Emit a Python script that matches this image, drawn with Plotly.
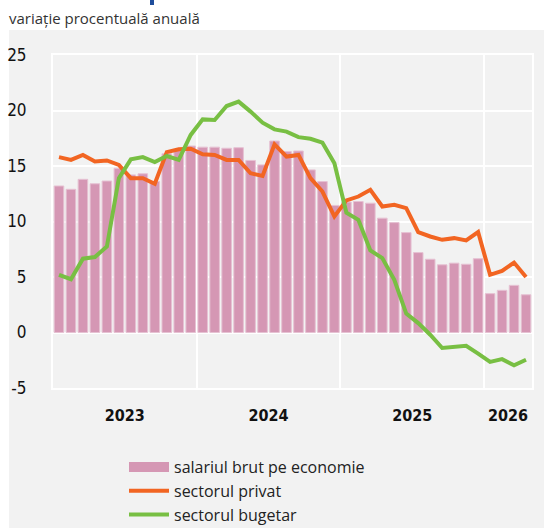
import plotly.graph_objects as go

# monthly data Jan 2023 .. Apr 2026
months = list(range(40))
year_labels = ["2023", "2024", "2025", "2026"]
year_label_pos = [5.5, 17.5, 29.5, 37.5]
year_bounds = [11.5, 23.5, 35.5]

salariul_brut = [13.2, 12.9, 13.8, 13.4, 13.65, 14.8, 14.2, 14.3, 13.6, 16.1, 16.4, 16.8,
                 16.7, 16.7, 16.6, 16.65, 15.5, 15.1, 17.25, 16.3, 16.35, 14.65, 13.6, 11.45,
                 11.75, 11.8, 11.65, 10.3, 9.9, 9.0, 7.2, 6.6, 6.1, 6.25, 6.15, 6.65,
                 3.5, 3.8, 4.25, 3.4]
sectorul_privat = [15.8, 15.55, 16.0, 15.4, 15.5, 15.1, 13.9, 13.9, 13.4, 16.25, 16.5, 16.55,
                   16.05, 16.0, 15.55, 15.55, 14.35, 14.1, 16.95, 15.85, 16.0, 13.9, 12.7, 10.45,
                   11.9, 12.25, 12.85, 11.35, 11.5, 11.2, 9.05, 8.65, 8.35, 8.5, 8.3, 9.05,
                   5.2, 5.55, 6.3, 5.0]
sectorul_bugetar = [5.2, 4.8, 6.65, 6.8, 7.75, 13.9, 15.6, 15.8, 15.35, 15.9, 15.55, 17.8,
                    19.2, 19.15, 20.4, 20.8, 19.9, 18.9, 18.3, 18.1, 17.6, 17.45, 17.1, 15.25,
                    10.8, 10.15, 7.4, 6.7, 4.75, 1.7, 0.85, -0.2, -1.4, -1.3, -1.2, -1.9,
                    -2.65, -2.4, -2.95, -2.45]
y_ticks = [-5, 0, 5, 10, 15, 20, 25]

W, H = 544, 528
ML, MR, MT, MB = 53, 12, 55, 140
pw, ph = W - ML - MR, H - MT - MB

def px_x(p):
    return (p - ML) / pw

def px_y(p):
    return (H - MB - p) / ph

cond = "DejaVu Sans Condensed, DejaVu Sans, sans-serif"
BAR_COLOR = "#d597b4"

fig = go.Figure()
fig.add_trace(go.Bar(x=months, y=salariul_brut, name="salariul brut pe economie",
                     showlegend=False,
                     marker=dict(color=BAR_COLOR, line=dict(color="#e6c2d3", width=1))))
# legend proxy for the bars (wide swatch like the reference)
fig.add_trace(go.Scatter(x=[None], y=[None], name="salariul brut pe economie", mode="lines",
                         line=dict(color=BAR_COLOR, width=12)))
fig.add_trace(go.Scatter(x=months, y=sectorul_privat, name="sectorul privat", mode="lines",
                         line=dict(color="#f26522", width=4)))
fig.add_trace(go.Scatter(x=months, y=sectorul_bugetar, name="sectorul bugetar", mode="lines",
                         line=dict(color="#78bf43", width=4)))

fig.update_layout(
    width=W, height=H,
    margin=dict(l=ML, r=MR, t=MT, b=MB, autoexpand=False),
    paper_bgcolor="white",
    plot_bgcolor="#f2f2f2",
    bargap=0.2,
    showlegend=True,
    legend=dict(xref="container", yref="container", x=124 / W, y=1 - 450 / H,
                xanchor="left", yanchor="top", itemwidth=40,
                bgcolor="rgba(0,0,0,0)", font=dict(family="Open Sans, Noto Sans, sans-serif",
                                                  size=16, color="#222"),
                tracegroupgap=0),
    shapes=[
        dict(type="rect", xref="paper", yref="paper", layer="below",
             x0=px_x(9), x1=px_x(W + 2), y0=px_y(H + 2), y1=px_y(30),
             fillcolor="#f2f2f2", line=dict(width=0)),
        dict(type="rect", xref="paper", yref="paper",
             x0=px_x(150), x1=px_x(154), y0=px_y(5), y1=px_y(-2),
             fillcolor="#1f4e9c", line=dict(width=0)),
    ],
    annotations=[
        dict(text="variație procentuală anuală", xref="paper", yref="paper",
             x=px_x(7), y=px_y(18), xanchor="left", yanchor="middle", showarrow=False,
             font=dict(family="Open Sans, Noto Sans, sans-serif", size=15, color="#333")),
    ],
)

fig.update_xaxes(range=[-0.5, 39.5], tickvals=year_label_pos, ticktext=year_labels,
                 showgrid=False, zeroline=False, ticks="", ticklabelstandoff=12,
                 automargin=False,
                 tickfont=dict(family=cond, size=16, color="#111", weight="bold"),
                 showline=True, linecolor="white", linewidth=2, mirror=True,
                 minor=dict(tickvals=year_bounds, showgrid=True, gridcolor="white", gridwidth=2))
fig.update_yaxes(range=[-5, 25], tickvals=y_ticks, ticktext=[str(v) for v in y_ticks],
                 showgrid=True, gridcolor="white", gridwidth=2, zeroline=False,
                 ticks="", ticklabelstandoff=21, automargin=False,
                 tickfont=dict(family=cond, size=17, color="#111"),
                 showline=True, linecolor="white", linewidth=2, mirror=True)

post = """
document.body.style.margin = '0';
document.body.style.padding = '0';
document.querySelectorAll('.xtick text, .ytick text').forEach(function(t){
  t.style.fontStretch = 'condensed';
});
"""
fig.write_html("out.html", post_script=post, config={"displayModeBar": False})
